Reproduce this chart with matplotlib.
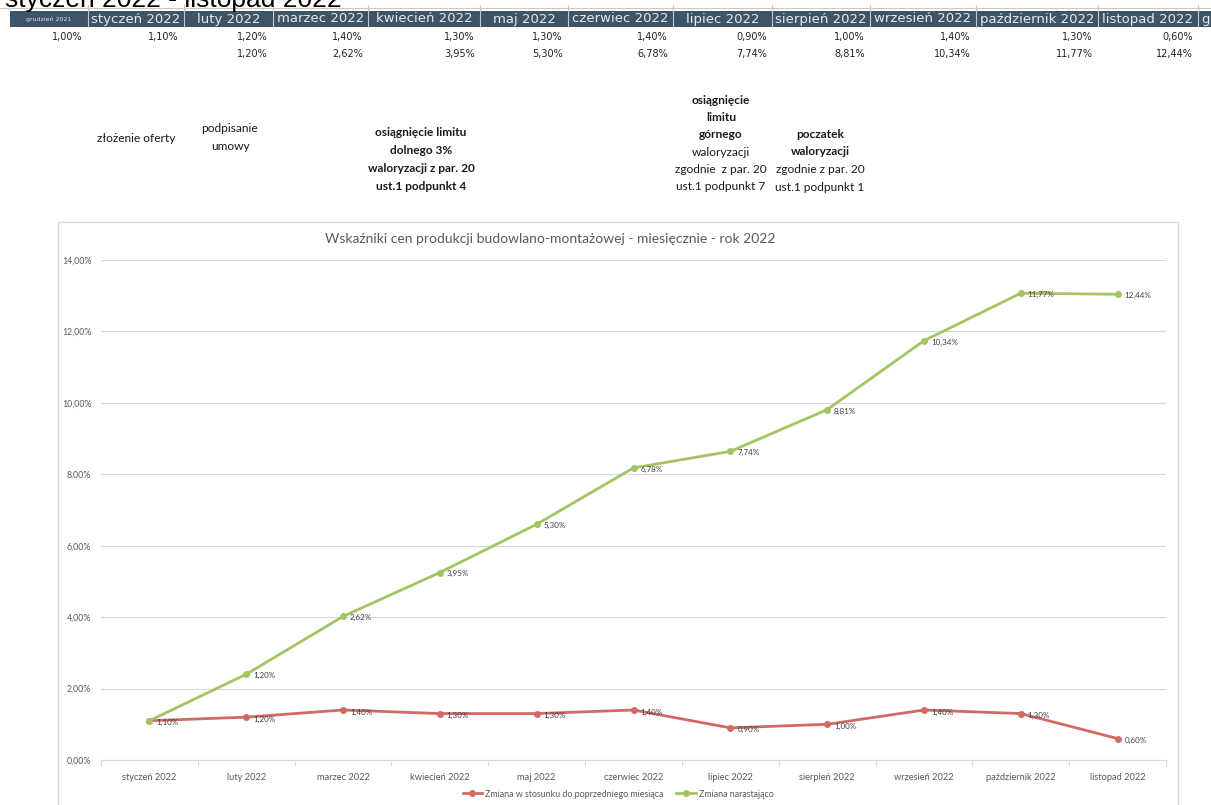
import matplotlib.pyplot as plt
from matplotlib.patches import Rectangle
from matplotlib.lines import Line2D

# table / chart data
header_months = ["grudzień 2021", "styczeń 2022", "luty 2022", "marzec 2022", "kwiecień 2022",
                 "maj 2022", "czerwiec 2022", "lipiec 2022", "sierpień 2022", "wrzesień 2022",
                 "październik 2022", "listopad 2022", "grudzień 2022"]
monthly_row = [1.00, 1.10, 1.20, 1.40, 1.30, 1.30, 1.40, 0.90, 1.00, 1.40, 1.30, 0.60]
cumulative_row = [None, None, 1.20, 2.62, 3.95, 5.30, 6.78, 7.74, 8.81, 10.34, 11.77, 12.44]

months = header_months[1:12]
monthly = monthly_row[1:]
cumulative = cumulative_row[1:]

W, H = 1211, 805
RED = "#d26a64"
GREEN = "#a3c462"
GRID = "#d9d9d9"
TXT = "#595959"


def pct(v):
    return f"{v:.2f}%".replace(".", ",")


fig = plt.figure(figsize=(W / 100, H / 100), dpi=100)
bg = fig.add_axes([0, 0, 1, 1])
bg.set_xlim(0, W)
bg.set_ylim(H, 0)
bg.axis("off")

# sheet title, cut off by the top edge like in the screenshot
bg.text(5, 7, "styczeń 2022 - listopad 2022", fontsize=19, family="Liberation Sans",
        va="baseline", ha="left", color="black")

# header of the table
col_edges = [10, 88, 184, 273, 368, 480, 568, 673, 772, 870, 976, 1098, 1198, 1300]
bg.plot([0, W], [8, 8], color="#c8c8c8", lw=0.8)
bg.add_patch(Rectangle((10, 11), W - 10, 16, color="#3e5467", lw=0))
for i, name in enumerate(header_months):
    x0, x1 = col_edges[i], col_edges[i + 1]
    if i > 0:
        bg.plot([x0, x0], [11, 27], color="#c0c8d0", lw=0.8)
        bg.plot([x0, x0], [5, 11], color="#c8c8c8", lw=0.8)
    if i == 0:
        bg.text((x0 + x1) / 2, 19, name, fontsize=4.5, color="#dfe4ea", ha="center", va="center",
                family="DejaVu Sans")
    elif i == len(header_months) - 1:
        bg.text(x0 + 4, 19, name, fontsize=9.5, color="#e6eaee", ha="left", va="center",
                family="DejaVu Sans")
    else:
        bg.text((x0 + x1) / 2, 19, name, fontsize=9.5, color="#e6eaee", ha="center", va="center",
                family="DejaVu Sans")

for i, v in enumerate(monthly_row):
    bg.text(col_edges[i + 1] - 5, 37, pct(v), fontsize=7, ha="right", va="center",
            family="DejaVu Sans", color="#222222")
for i, v in enumerate(cumulative_row):
    if v is not None:
        bg.text(col_edges[i + 1] - 5, 54, pct(v), fontsize=7, ha="right", va="center",
                family="DejaVu Sans", color="#222222")

# milestone notes
note = dict(fontsize=8.6, family="Lato", ha="center", va="center", color="#1a1a1a")
bg.text(136, 138, "złożenie oferty", **note)
bg.text(229, 128, "podpisanie", **note)
bg.text(231, 146, "umowy", **note)
for k, line in enumerate(["osiągnięcie limitu", "dolnego 3%", "waloryzacji z par. 20", "ust.1 podpunkt 4"]):
    bg.text(421, 133 + k * 18, line, fontweight="bold", **note)
for k, line in enumerate(["osiągnięcie", "limitu", "górnego", "waloryzacji",
                          "zgodnie  z par. 20", "ust.1 podpunkt 7"]):
    bg.text(721, 100 + k * 17.4, line, fontweight="bold" if k < 3 else "normal", **note)
for k, line in enumerate(["poczatek", "waloryzacji", "zgodnie z par. 20", "ust.1 podpunkt 1"]):
    bg.text(820, 134 + k * 17.7, line, fontweight="bold" if k < 2 else "normal", **note)

# chart frame and title
bg.add_patch(Rectangle((58, 222), 1120, 600, fill=False, edgecolor=GRID, lw=1))
bg.text(550, 239, "Wskaźniki cen produkcji budowlano-montażowej - miesięcznie - rok 2022",
        fontsize=10, family="Lato", color=TXT, ha="center", va="center")

ax = fig.add_axes([101 / W, (H - 760) / H, 1065 / W, 500 / H])
ax.patch.set_alpha(0)
x = list(range(len(months)))
# stacked line chart: the cumulative series sits on top of the monthly one
stacked = [m + (c if c is not None else 0) for m, c in zip(monthly, cumulative)]

ax.plot(x, [v / 100 for v in monthly], color=RED, lw=2, marker="o", ms=4, zorder=3)
ax.plot(x, [v / 100 for v in stacked], color=GREEN, lw=2, marker="o", ms=4, zorder=3)

for i, v in enumerate(monthly):
    ax.annotate(pct(v), (i, v / 100), xytext=(5, -1.5), textcoords="offset points",
                fontsize=5.8, family="Lato", color="#404040", ha="left", va="center")
for i, (s, c) in enumerate(zip(stacked, cumulative)):
    if c is None:
        continue
    ax.annotate(pct(c), (i, s / 100), xytext=(5, -1), textcoords="offset points",
                fontsize=5.8, family="Lato", color="#404040", ha="left", va="center")

ax.set_xlim(-0.5, len(months) - 0.5)
ax.set_ylim(0, 0.14)
ax.set_yticks([i * 0.02 for i in range(8)])
ax.set_yticklabels([pct(i * 2) for i in range(8)], fontsize=6.3, family="Lato", color=TXT)
ax.set_xticks(x)
ax.set_xticklabels(months, fontsize=6.7, family="Lato", color=TXT)
ax.set_xticks([i - 0.5 for i in range(len(months) + 1)], minor=True)
ax.tick_params(axis="x", which="major", length=0, pad=9)
ax.tick_params(axis="x", which="minor", length=4, color=GRID, width=0.8)
ax.tick_params(axis="y", length=0, pad=7)
ax.grid(axis="y", color=GRID, lw=0.8)
ax.set_axisbelow(True)
for side in ["top", "right", "left"]:
    ax.spines[side].set_visible(False)
ax.spines["bottom"].set_color(GRID)
ax.spines["bottom"].set_linewidth(0.8)

handles = [Line2D([], [], color=RED, lw=2, marker="o", ms=4),
           Line2D([], [], color=GREEN, lw=2, marker="o", ms=4)]
fig.legend(handles, ["Zmiana w stosunku do poprzedniego miesiąca", "Zmiana narastająco"],
           loc="center", bbox_to_anchor=(618 / W, 1 - 794 / H), ncol=2, frameon=False,
           prop={"family": "Lato", "size": 6.4}, labelcolor=TXT, handlelength=2.2,
           handletextpad=0.3, columnspacing=1.5)

fig.savefig("out.png", dpi=100)
